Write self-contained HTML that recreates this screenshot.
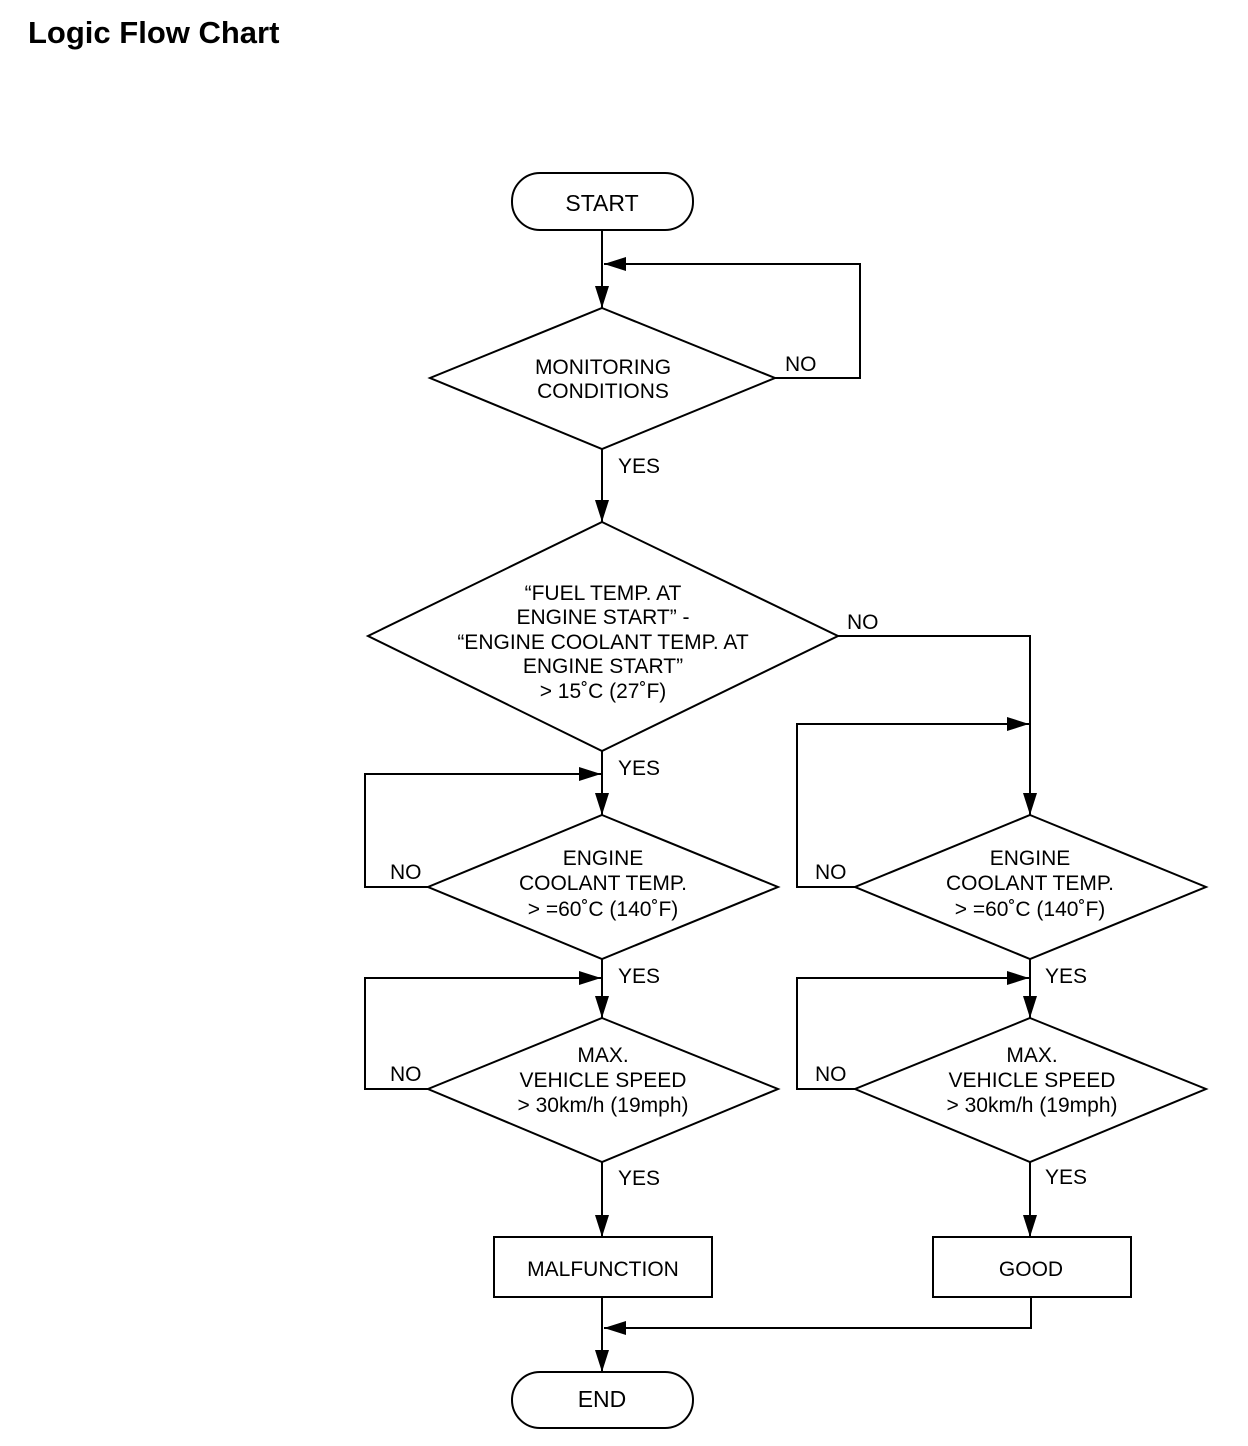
<!DOCTYPE html>
<html><head><meta charset="utf-8"><style>
html,body{margin:0;padding:0;background:#fff;}
svg{display:block;}
text{font-family:"Liberation Sans",Arial,sans-serif;font-size:21px;fill:#000;}
</style></head><body>
<svg width="1248" height="1446" viewBox="0 0 1248 1446" xmlns="http://www.w3.org/2000/svg">
<defs>
<marker id="a" markerWidth="22" markerHeight="14" refX="22" refY="7" orient="auto" markerUnits="userSpaceOnUse">
<path d="M0,0 L22,7 L0,14 Z" fill="#000"/>
</marker>
</defs>
<text x="28" y="43" style="font-size:31px;font-weight:bold">Logic Flow Chart</text>
<g stroke="#000" stroke-width="2" fill="none">
<rect x="512" y="173" width="181" height="57" rx="28"/>
<rect x="512" y="1372" width="181" height="56" rx="28"/>
<rect x="494" y="1237" width="218" height="60"/>
<rect x="933" y="1237" width="198" height="60"/>
<polygon points="602,308 775,378 602,449 430,378"/>
<polygon points="602,522 838,636 602,751 368,636"/>
<polygon points="602,815 778,887 602,959 428,887"/>
<polygon points="602,1018 778,1089 602,1162 428,1089"/>
<polygon points="1030,815 1206,887 1030,959 855,887"/>
<polygon points="1030,1018 1206,1089 1030,1162 855,1089"/>
<line x1="602" y1="230" x2="602" y2="308" marker-end="url(#a)"/>
<polyline points="775,378 860,378 860,264 604,264" marker-end="url(#a)"/>
<line x1="602" y1="449" x2="602" y2="522" marker-end="url(#a)"/>
<line x1="602" y1="751" x2="602" y2="815" marker-end="url(#a)"/>
<polyline points="428,887 365,887 365,774 601,774" marker-end="url(#a)"/>
<line x1="602" y1="959" x2="602" y2="1018" marker-end="url(#a)"/>
<polyline points="428,1089 365,1089 365,978 601,978" marker-end="url(#a)"/>
<line x1="602" y1="1162" x2="602" y2="1237" marker-end="url(#a)"/>
<line x1="602" y1="1297" x2="602" y2="1372" marker-end="url(#a)"/>
<polyline points="1031,1297 1031,1328 604,1328" marker-end="url(#a)"/>
<polyline points="838,636 1030,636 1030,815" marker-end="url(#a)"/>
<polyline points="855,887 797,887 797,724 1029,724" marker-end="url(#a)"/>
<line x1="1030" y1="959" x2="1030" y2="1018" marker-end="url(#a)"/>
<polyline points="855,1089 797,1089 797,978 1029,978" marker-end="url(#a)"/>
<line x1="1030" y1="1162" x2="1030" y2="1237" marker-end="url(#a)"/>
</g>
<g text-anchor="middle">
<text x="602" y="211" style="font-size:23px">START</text>
<text x="602" y="1407" style="font-size:23px">END</text>
<text x="603" y="1276">MALFUNCTION</text>
<text x="1031" y="1276">GOOD</text>
<text x="603" y="374">MONITORING</text>
<text x="603" y="398">CONDITIONS</text>
<text x="603" y="600">“FUEL TEMP. AT</text>
<text x="603" y="624">ENGINE START” -</text>
<text x="603" y="649">“ENGINE COOLANT TEMP. AT</text>
<text x="603" y="673">ENGINE START”</text>
<text x="603" y="698">&gt; 15˚C (27˚F)</text>
<text x="603" y="865">ENGINE</text>
<text x="603" y="890">COOLANT TEMP.</text>
<text x="603" y="916">&gt; =60˚C (140˚F)</text>
<text x="603" y="1062">MAX.</text>
<text x="603" y="1087">VEHICLE SPEED</text>
<text x="603" y="1112">&gt; 30km/h (19mph)</text>
<text x="1030" y="865">ENGINE</text>
<text x="1030" y="890">COOLANT TEMP.</text>
<text x="1030" y="916">&gt; =60˚C (140˚F)</text>
<text x="1032" y="1062">MAX.</text>
<text x="1032" y="1087">VEHICLE SPEED</text>
<text x="1032" y="1112">&gt; 30km/h (19mph)</text>
</g>
<text x="785" y="371">NO</text>
<text x="618" y="473">YES</text>
<text x="847" y="629">NO</text>
<text x="618" y="775">YES</text>
<text x="390" y="879">NO</text>
<text x="618" y="983">YES</text>
<text x="390" y="1081">NO</text>
<text x="618" y="1185">YES</text>
<text x="815" y="879">NO</text>
<text x="1045" y="983">YES</text>
<text x="815" y="1081">NO</text>
<text x="1045" y="1184">YES</text>
</svg>
</body></html>
